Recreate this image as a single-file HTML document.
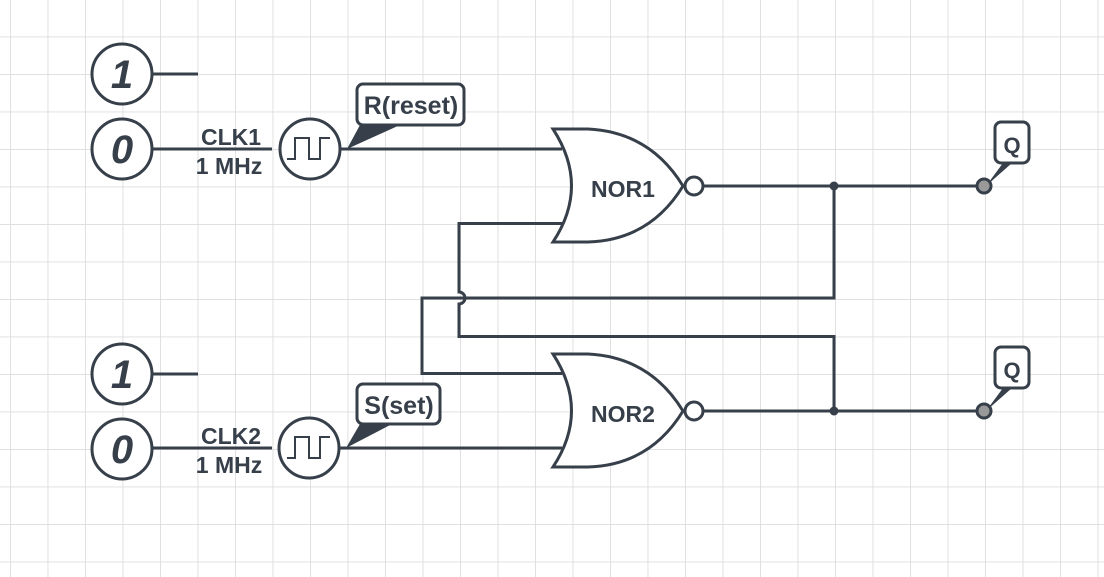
<!DOCTYPE html>
<html><head><meta charset="utf-8"><style>
html,body{margin:0;padding:0;background:#fff;}
svg{display:block;}
text{font-family:"Liberation Sans",sans-serif;font-weight:bold;fill:#37404a;}
</style></head><body>
<svg width="1104" height="577" viewBox="0 0 1104 577" xmlns="http://www.w3.org/2000/svg">
<defs>
<pattern id="g" x="10" y="-1" width="37.5" height="37.5" patternUnits="userSpaceOnUse">
<path d="M0,0 H37.5 M0,0 V37.5" stroke="#dcdcdc" stroke-width="1.8" fill="none"/>
</pattern>
</defs>
<rect width="1104" height="577" fill="url(#g)"/>
<g stroke="#37404a" stroke-width="3" fill="none">
<line x1="152" y1="74" x2="198" y2="74"/>
<line x1="152" y1="149" x2="272" y2="149"/>
<line x1="340" y1="149" x2="562" y2="149"/>
<line x1="152" y1="374" x2="198" y2="374"/>
<line x1="152" y1="448" x2="272" y2="448"/>
<line x1="340" y1="448" x2="562" y2="448"/>
<path d="M562,223.5 H459 V292 A6,6 0 0 1 459,304 V336.5 H834 V411"/>
<path d="M562,373.5 H422 V298 H834 V186"/>
<line x1="703" y1="186" x2="984" y2="186"/>
<line x1="703" y1="411" x2="984" y2="411"/>
<path d="M553,129 L588,129 Q650,132 683,186 Q650,240 588,242 L553,242 Q590,186 553,129 Z" fill="#fff"/>
<path d="M553,354 L588,354 Q650,357 683,411 Q650,465 588,467 L553,467 Q590,411 553,354 Z" fill="#fff"/>
<circle cx="694" cy="186" r="9" fill="#fff"/>
<circle cx="694" cy="411" r="9" fill="#fff"/>
<circle cx="122" cy="74" r="30" fill="#fff"/>
<circle cx="122" cy="149" r="30" fill="#fff"/>
<circle cx="122" cy="374" r="30" fill="#fff"/>
<circle cx="122" cy="449" r="30" fill="#fff"/>
<circle cx="310" cy="149" r="30" fill="#fff"/>
<circle cx="309" cy="448" r="30" fill="#fff"/>
<path d="M287,159 H295 V138 H309 V159 H320 V138 H330" stroke-width="2"/>
<path d="M287,458 H295 V437 H309 V458 H320 V437 H330" stroke-width="2"/>
<rect x="357" y="84" width="107" height="41" rx="6" fill="#fff"/>
<rect x="357" y="384" width="83" height="40" rx="6" fill="#fff"/>
<rect x="995" y="122" width="34" height="41" rx="6" fill="#fff"/>
<rect x="995" y="347" width="34" height="41" rx="6" fill="#fff"/>
</g>
<g fill="#37404a">
<polygon points="360,125 400,125 347,149"/>
<polygon points="360,424 392,424 346,448"/>
<polygon points="1003,163 1012,163 986,186"/>
<polygon points="1003,388 1012,388 986,411"/>
<circle cx="834" cy="186" r="4.5"/>
<circle cx="834" cy="411" r="4.5"/>
</g>
<circle cx="984" cy="186" r="7" fill="#999" stroke="#37404a" stroke-width="3"/>
<circle cx="984" cy="411" r="7" fill="#999" stroke="#37404a" stroke-width="3"/>
<g font-style="italic" font-size="40" text-anchor="middle">
<text x="122" y="88">1</text>
<text x="122" y="163">0</text>
<text x="122" y="388">1</text>
<text x="122" y="463">0</text>
</g>
<g font-size="23" text-anchor="middle">
<text x="231" y="145">CLK1</text>
<text x="229" y="174">1 MHz</text>
<text x="231" y="444">CLK2</text>
<text x="229" y="473">1 MHz</text>
<text x="623" y="197">NOR1</text>
<text x="623" y="422">NOR2</text>
</g>
<g font-size="25" text-anchor="middle">
<text x="411" y="114">R(reset)</text>
<text x="399" y="414">S(set)</text>
</g>
<g font-size="22" text-anchor="middle">
<text x="1012" y="153">Q</text>
<text x="1012" y="378">Q</text>
</g>
</svg>
</body></html>
